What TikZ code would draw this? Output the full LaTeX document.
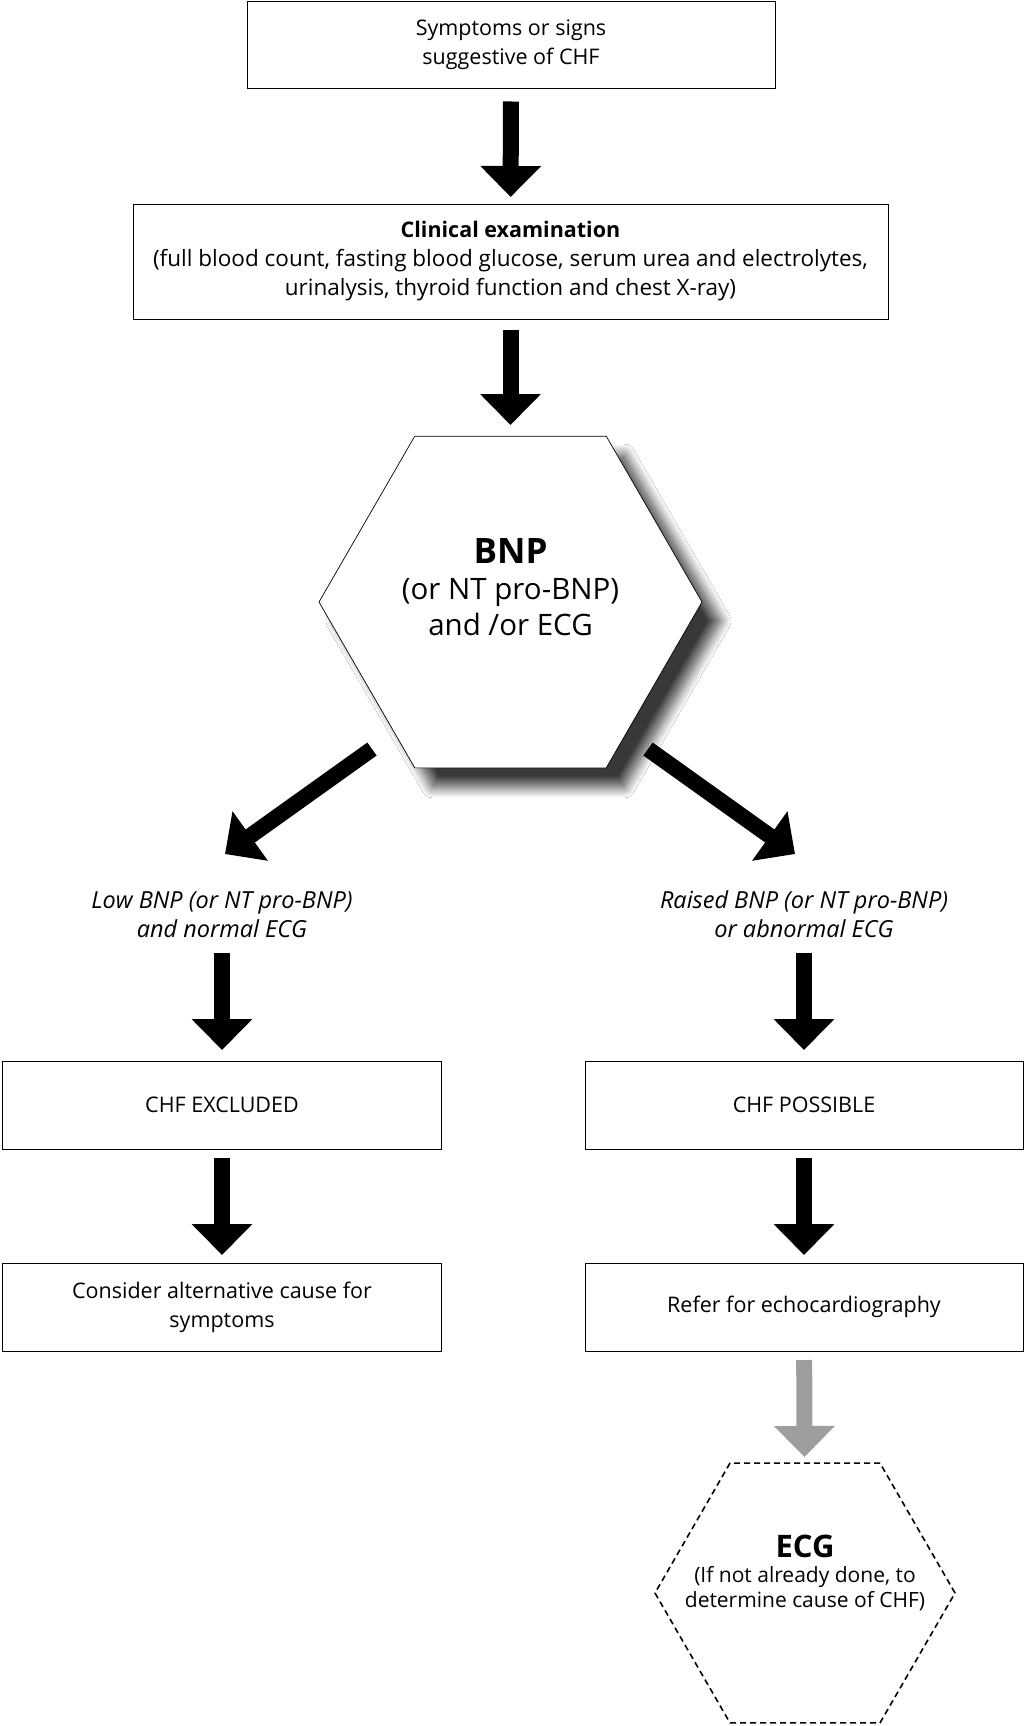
\documentclass[tikz,border=0pt]{standalone}
\usepackage{fontspec}
\setmainfont{Open Sans}
\usetikzlibrary{arrows.meta,shapes.geometric,shadows.blur}
\definecolor{arrowgray}{RGB}{158,158,158}
\newcommand\bodysize{\fontsize{21.5}{29}\selectfont}
\newcommand\labsize{\fontsize{23.5}{29}\selectfont}
\begin{document}
\begin{tikzpicture}[x=1pt,y=-1pt,
  box/.style={draw, line width=0.9pt, rectangle, align=center, inner sep=0pt, font=\bodysize},
  lab/.style={align=center, inner sep=0pt, font=\labsize\itshape},
  hexa/.style={regular polygon, regular polygon sides=6, draw, inner sep=0pt},
  bigarrow/.style={line width=16pt, -{Triangle[width=59pt,length=31pt]}},
  grayarrow/.style={bigarrow, color=arrowgray}]
\fill[white] (0,0) rectangle (1024,1726);
\useasboundingbox (0,0) rectangle (1024,1726);

% boxes
\node[box, minimum width=528pt, minimum height=87pt] (top) at (511,44.5)
  {Symptoms or signs\\suggestive of CHF};
\node[box, minimum width=755pt, minimum height=115pt] (clin) at (510.5,261.5)
  {\textbf{Clinical examination}\\{\fontsize{22.5}{29}\selectfont(full blood count, fasting blood glucose, serum urea and electrolytes,}\\{\fontsize{22.5}{29}\selectfont urinalysis, thyroid function and chest X-ray)}};

% BNP hexagon
\node[hexa, minimum size=383pt, fill=white, line width=0.7pt,
  blur shadow={shadow xshift=18pt, shadow yshift=-19pt, shadow blur radius=11pt, shadow blur steps=16, shadow opacity=78}]
  (bnp) at (510.5,602) {};
\node[align=center, inner sep=0pt, font=\fontsize{29.5}{36}\selectfont] (bnptxt) at (510.5,587)
  {{\fontsize{35}{38}\selectfont\bfseries BNP}\\(or NT pro-BNP)\\and /or ECG};

% branch labels
\node[lab] (lowlab) at (222,914.5) {Low BNP (or NT pro-BNP)\\and normal ECG};
\node[lab] (raisedlab) at (804,914.5) {Raised BNP (or NT pro-BNP)\\or abnormal ECG};

\node[box, minimum width=439pt, minimum height=88pt] (excl) at (222,1105) {CHF EXCLUDED};
\node[box, minimum width=438pt, minimum height=88pt] (poss) at (804,1105) {CHF POSSIBLE};
\node[box, minimum width=439pt, minimum height=88pt] (alt) at (222,1307) {Consider alternative cause for\\symptoms};
\node[box, minimum width=438pt, minimum height=88pt] (refer) at (804,1307) {Refer for echocardiography};

% ECG hexagon
\node[hexa, minimum size=300pt, line width=1.6pt, dash pattern=on 6pt off 4pt] (ecg) at (805,1593) {};
\node[align=center, inner sep=0pt, font=\fontsize{21}{25}\selectfont] (ecgtxt) at (805,1573)
  {{\fontsize{31}{32}\selectfont\bfseries ECG}\\(If not already done, to\\determine cause of CHF)};

% arrows
\draw[bigarrow, shorten <=57pt, shorten >=64.5pt] (top.center) -- (clin.center);
\draw[bigarrow, shorten <=68.5pt, shorten >=177pt] (clin.center) -- (bnp.center);
\coordinate (dl1) at (372,749);
\coordinate (dl2) at (225,854);
\coordinate (dr1) at (648,749);
\coordinate (dr2) at (795,854);
\draw[bigarrow] (dl1) -- (dl2);
\draw[bigarrow] (dr1) -- (dr2);
\draw[bigarrow, shorten <=38.5pt, shorten >=55pt] (lowlab.center) -- (excl.center);
\draw[bigarrow, shorten <=38.5pt, shorten >=55pt] (raisedlab.center) -- (poss.center);
\draw[bigarrow, shorten <=53pt, shorten >=52pt] (excl.center) -- (alt.center);
\draw[bigarrow, shorten <=53pt, shorten >=52pt] (poss.center) -- (refer.center);
\draw[grayarrow, shorten <=53pt, shorten >=136pt] (refer.center) -- (ecg.center);
\end{tikzpicture}
\end{document}
